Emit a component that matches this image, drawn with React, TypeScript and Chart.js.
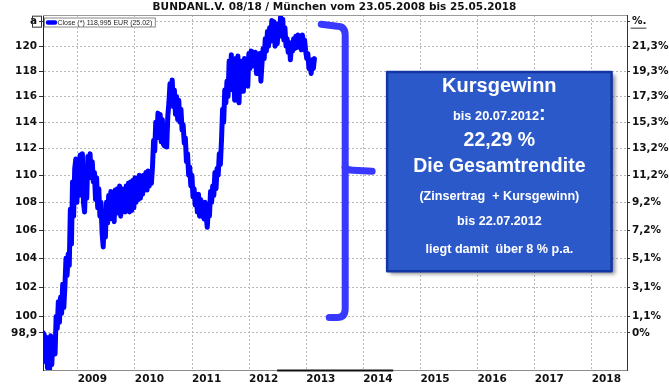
import React, { useEffect, useRef } from "react";
import { Chart, registerables } from "chart.js";

Chart.register(...registerables);

// ---------- data ----------
const TITLE = "BUNDANL.V. 08/18 / München vom 23.05.2008 bis 25.05.2018";
const LEGEND_TEXT = "Close (*) 118,995 EUR (25.02)";
const FIRST_WEEK = { y: 2008, m: 5, d: 23 }; // date of first weekly close

// weekly closes (EUR), 23.05.2008 .. 25.02.2013
const weeklyClose = [
  98.9, 98.8, 97.0, 98.6, 96.6, 98.0, 96.5, 98.7, 96.8, 98.5,
  98.2, 97.5, 100.0, 99.2, 101.0, 99.6, 101.3, 100.2, 102.2, 100.6,
  102.0, 104.0, 102.8, 104.3, 103.5, 107.5, 105.0, 109.5, 107.0, 110.5,
  111.2, 108.0, 110.8, 108.5, 111.5, 109.0, 111.6, 108.0, 107.3, 109.5,
  108.3, 111.4, 109.8, 111.6, 110.0, 111.0, 109.5, 110.2, 108.2, 109.8,
  107.6, 109.0, 107.0, 108.0, 105.8, 104.8, 106.8, 105.5, 108.0, 106.5,
  108.5, 106.8, 108.8, 107.0, 108.5, 106.6, 108.9, 107.2, 109.0, 107.4,
  109.2, 107.0, 109.0, 107.5, 108.8, 107.3, 109.2, 108.0, 109.4, 107.3,
  109.5, 107.4, 109.6, 107.6, 109.8, 108.0, 109.6, 108.2, 110.0, 108.3,
  109.9, 108.6, 110.0, 108.9, 110.2, 108.9, 110.3, 109.2, 110.2, 109.4,
  110.6, 112.6, 111.8, 114.0, 112.8, 114.7, 113.0, 114.6, 112.5, 114.2,
  112.3, 112.2, 113.0, 112.1, 114.5, 115.5, 117.0, 115.8, 117.3, 115.2,
  116.5, 114.6, 116.0, 114.2, 115.7, 114.0, 115.0, 113.4, 113.8, 112.4,
  112.8, 111.0, 111.6, 110.0, 110.6, 109.2, 110.0, 108.4, 109.0, 107.8,
  108.5, 107.3, 108.6, 107.0, 108.2, 107.2, 107.8, 106.8, 108.0, 107.0,
  106.2, 107.5, 107.0, 108.8, 108.0, 109.2, 108.5, 110.2, 109.0, 110.5,
  110.0, 111.6, 110.8, 112.6, 115.0, 114.0, 116.5, 115.5, 117.2, 116.0,
  118.8, 117.0, 119.3, 116.5, 118.5, 115.7, 119.0, 116.0, 119.2, 115.5,
  118.5, 116.5, 118.8, 116.4, 119.0, 117.0, 118.6, 116.8, 119.4, 118.2,
  119.6, 118.4, 119.5, 118.4, 119.5, 117.8, 119.3, 118.0, 119.4, 117.2,
  118.6, 119.8, 119.0, 120.6, 119.6, 121.2, 120.0, 121.5, 120.4, 122.1,
  121.0, 122.0, 120.0, 121.3, 120.2, 121.8, 120.8, 122.4, 121.2, 122.2,
  120.5, 121.5, 120.0, 120.6, 119.5, 120.3, 118.9, 120.0, 119.6, 120.6,
  119.8, 120.8, 119.9, 120.9, 120.0, 120.8, 119.7, 120.9, 120.1, 120.5,
  119.6, 119.0, 119.4, 118.2, 118.6, 117.8, 118.9, 118.2, 118.995,
];

const yearTicks = [2009, 2010, 2011, 2012, 2013, 2014, 2015, 2016, 2017, 2018];
const yearLabels = ["2009", "2010", "2011", "2012", "2013", "2014", "2015", "2016", "2017", "2018"];
const X_RANGE = [2008.39, 2018.615];

const priceTicks = [98.9, 100, 102, 104, 106, 108, 110, 112, 114, 116, 118, 120, 122];
const priceLabels = ["98,9", "100", "102", "104", "106", "108", "110", "112", "114", "116", "118", "120", "a"];
const pctLabels = ["0%", "1,1%", "3,1%", "5,1%", "7,2%", "9,2%", "11,2%", "13,2%", "15,3%", "17,3%", "19,3%", "21,3%", "%."];
const Y_RANGE = [96.45, 122.55];

// highlighted range on the time axis
const AXIS_MARK = [2012.49, 2014.52];

// bracket (years / prices)
const BRACKET = { xEnd: 2013.262, xSpine: 2013.681, xTip: 2014.153, top: 121.63, mid: 110.36, bottom: 99.93 };
// info box (years / prices)
const BOX = { left: 2014.415, right: 2018.345, top: 117.92, bottom: 103.09 };
const boxLines = [
  "Kursgewinn",
  "bis 20.07.2012",
  "22,29 %",
  "Die Gesamtrendite",
  "(Zinsertrag  + Kursgewinn)",
  "bis 22.07.2012",
  "liegt damit  über 8 % p.a.",
];

// ---------- helpers ----------
function decimalYear(t: number) {
  const d = new Date(t);
  const y = d.getUTCFullYear();
  const s = Date.UTC(y, 0, 1);
  const e = Date.UTC(y + 1, 0, 1);
  return y + (t - s) / (e - s);
}

const AXIS_FONT = { family: "'DejaVu Sans', Verdana, sans-serif", weight: "bold" as const, size: 10.5 };

export default function App() {
  const ref = useRef<HTMLCanvasElement | null>(null);

  useEffect(() => {
    const canvas = ref.current;
    if (!canvas) return;
    const t0 = Date.UTC(FIRST_WEEK.y, FIRST_WEEK.m - 1, FIRST_WEEK.d);
    const points = weeklyClose.map((v, i) => ({ x: decimalYear(t0 + i * 7 * 86400000), y: v }));

    const deco = {
      id: "deco",
      afterDraw(chart: any) {
        const ctx = chart.ctx as CanvasRenderingContext2D;
        const ca = chart.chartArea;
        const xs = chart.scales.x;
        const ys = chart.scales.y;
        ctx.save();
        // top border
        ctx.strokeStyle = "#9a9a9a";
        ctx.lineWidth = 1;
        ctx.beginPath();
        ctx.moveTo(ca.left, ca.top + 0.5);
        ctx.lineTo(ca.right, ca.top + 0.5);
        ctx.stroke();
        // axis highlight segment
        ctx.strokeStyle = "#111";
        ctx.lineWidth = 2;
        ctx.beginPath();
        ctx.moveTo(xs.getPixelForValue(AXIS_MARK[0]), ca.bottom + 0.5);
        ctx.lineTo(xs.getPixelForValue(AXIS_MARK[1]), ca.bottom + 0.5);
        ctx.stroke();

        // legend box
        const lx = ca.left + 1, ly = ca.top + 2.5;
        ctx.font = "7px 'Liberation Sans', Arial, sans-serif";
        const tw = ctx.measureText(LEGEND_TEXT).width;
        ctx.fillStyle = "#fff";
        ctx.fillRect(lx, ly, tw + 17, 10);
        ctx.strokeStyle = "#8a8a8a";
        ctx.lineWidth = 1;
        ctx.strokeRect(lx + 0.5, ly + 0.5, tw + 16, 9);
        ctx.strokeStyle = "#0000ff";
        ctx.lineWidth = 4.5;
        ctx.lineCap = "round";
        ctx.beginPath();
        ctx.moveTo(lx + 4, ly + 5);
        ctx.lineTo(lx + 11, ly + 5);
        ctx.stroke();
        ctx.fillStyle = "#222";
        ctx.textBaseline = "middle";
        ctx.textAlign = "left";
        ctx.fillText(LEGEND_TEXT, lx + 13.5, ly + 5.5);

        // box around "a"
        const ay = ys.getPixelForValue(122);
        ctx.strokeStyle = "#333";
        ctx.lineWidth = 1;
        ctx.strokeRect(32.5, ay - 5.5, 9, 11);
        // underline of "%."
        ctx.beginPath();
        ctx.moveTo(ca.right + 4, ay + 6.5);
        ctx.lineTo(ca.right + 19, ay + 6.5);
        ctx.stroke();

        // bracket
        const bxE = xs.getPixelForValue(BRACKET.xEnd);
        const bxS = xs.getPixelForValue(BRACKET.xSpine);
        const bxT = xs.getPixelForValue(BRACKET.xTip);
        const byT = ys.getPixelForValue(BRACKET.top);
        const byM = ys.getPixelForValue(BRACKET.mid);
        const byB = ys.getPixelForValue(BRACKET.bottom);
        ctx.strokeStyle = "#3838ff";
        ctx.lineWidth = 7;
        ctx.lineCap = "round";
        ctx.lineJoin = "round";
        ctx.beginPath();
        ctx.moveTo(bxE, byT - 2);
        ctx.lineTo(bxS - 8, byT);
        ctx.quadraticCurveTo(bxS, byT, bxS, byT + 9);
        ctx.lineTo(bxS, byB - 9);
        ctx.quadraticCurveTo(bxS, byB, bxS - 8, byB);
        ctx.lineTo(bxE + 8, byB);
        ctx.stroke();
        ctx.beginPath();
        ctx.moveTo(bxS, byM - 3);
        ctx.quadraticCurveTo(bxS + 2, byM, bxS + 8, byM);
        ctx.lineTo(bxT, byM + 1);
        ctx.stroke();

        // info box
        const L = xs.getPixelForValue(BOX.left);
        const R = xs.getPixelForValue(BOX.right);
        const T = ys.getPixelForValue(BOX.top);
        const B = ys.getPixelForValue(BOX.bottom);
        ctx.save();
        ctx.shadowColor = "rgba(0,0,0,0.45)";
        ctx.shadowBlur = 4;
        ctx.shadowOffsetX = 3;
        ctx.shadowOffsetY = 3;
        ctx.fillStyle = "#2c59c9";
        ctx.fillRect(L, T, R - L, B - T);
        ctx.restore();
        ctx.strokeStyle = "#1236a3";
        ctx.lineWidth = 2.5;
        ctx.strokeRect(L, T, R - L, B - T);

        const cx = (L + R) / 2;
        const F = "'Liberation Sans', Arial, sans-serif";
        const offs = [14.5, 44.5, 68.5, 95, 124.5, 149.5, 177];
        const sizes = [20, 12.8, 19.5, 19.5, 12.6, 12.6, 12.6];
        ctx.fillStyle = "#ffffff";
        ctx.textBaseline = "middle";
        boxLines.forEach((txt, i) => {
          ctx.font = `bold ${sizes[i]}px ${F}`;
          if (i === 1) {
            const w1 = ctx.measureText(txt).width;
            ctx.font = `bold 20px ${F}`;
            const w2 = ctx.measureText(":").width;
            const sx = cx - (w1 + w2) / 2;
            ctx.textAlign = "left";
            ctx.font = `bold ${sizes[i]}px ${F}`;
            ctx.fillText(txt, sx, T + offs[i]);
            ctx.font = `bold 20px ${F}`;
            ctx.fillText(":", sx + w1, T + offs[i] - 2);
          } else {
            ctx.textAlign = "center";
            ctx.fillText(txt, cx, T + offs[i]);
          }
        });
        ctx.restore();
      },
    };

    const chart = new Chart(canvas, {
      type: "line",
      data: {
        datasets: [
          {
            label: "Close",
            data: points,
            borderColor: "#0000ff",
            backgroundColor: "#0000ff",
            borderWidth: 5,
            pointRadius: 0,
            tension: 0,
            borderJoinStyle: "round",
            borderCapStyle: "round",
            yAxisID: "y",
          },
        ],
      },
      options: {
        animation: false,
        responsive: false,
        maintainAspectRatio: false,
        layout: { padding: 0 },
        plugins: {
          legend: { display: false },
          tooltip: { enabled: false },
          title: {
            display: true,
            text: TITLE,
            color: "#111",
            font: { family: "'DejaVu Sans', Verdana, sans-serif", weight: "bold", size: 10.5 },
            padding: { top: 1, bottom: 1.4 },
          },
        },
        scales: {
          x: {
            type: "linear",
            position: "bottom",
            min: X_RANGE[0],
            max: X_RANGE[1],
            afterBuildTicks: (s: any) => {
              s.ticks = yearTicks.map((v) => ({ value: v }));
            },
            afterFit: (s: any) => {
              s.height = 17;
            },
            ticks: {
              autoSkip: false,
              maxRotation: 0,
              labelOffset: 14.5,
              padding: 3,
              color: "#111",
              font: AXIS_FONT,
              callback: (_v: any, i: number) => yearLabels[i],
            },
            grid: { color: "#b8b8b8", drawTicks: false, lineWidth: 1 },
            border: { display: true, color: "#8c8c8c", width: 1, dash: [2, 2] },
          },
          y: {
            type: "logarithmic",
            position: "left",
            min: Y_RANGE[0],
            max: Y_RANGE[1],
            afterBuildTicks: (s: any) => {
              s.ticks = priceTicks.map((v) => ({ value: v }));
            },
            afterFit: (s: any) => {
              s.width = 43;
            },
            ticks: {
              autoSkip: false,
              padding: 2,
              color: "#111",
              font: AXIS_FONT,
              callback: (_v: any, i: number) => priceLabels[i],
            },
            grid: { color: "#b8b8b8", tickLength: 4, tickColor: "#333", lineWidth: 1 },
            border: { display: true, color: "#222", width: 1, dash: [2, 2] },
          },
          y2: {
            type: "logarithmic",
            position: "right",
            min: Y_RANGE[0],
            max: Y_RANGE[1],
            afterBuildTicks: (s: any) => {
              s.ticks = priceTicks.map((v) => ({ value: v }));
            },
            afterFit: (s: any) => {
              s.width = 42;
            },
            ticks: {
              autoSkip: false,
              padding: 2,
              color: "#111",
              font: AXIS_FONT,
              callback: (_v: any, i: number) => pctLabels[i],
            },
            grid: { drawOnChartArea: false, tickLength: 3, tickColor: "#333" },
            border: { display: true, color: "#333", width: 1 },
          },
        },
      },
      plugins: [deco],
    } as any);

    return () => chart.destroy();
  }, []);

  return (
    <div style={{ position: "absolute", left: 0, top: 0, width: 669, height: 387, background: "#fff" }}>
      <canvas ref={ref} width={669} height={387} style={{ display: "block", width: 669, height: 387 }} />
    </div>
  );
}
